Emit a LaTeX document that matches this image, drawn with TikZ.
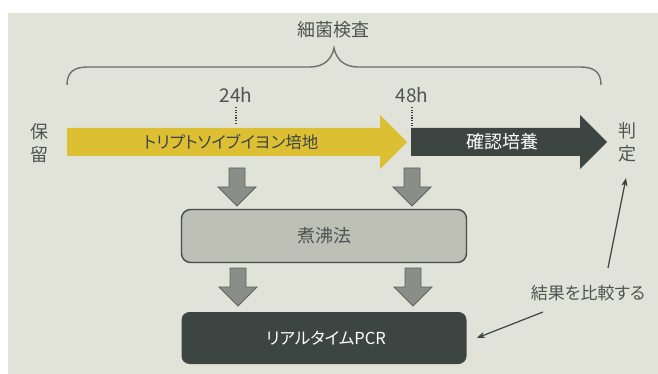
\documentclass[tikz,border=0pt]{standalone}
\usepackage{fontspec}
\setmainfont{Noto Sans CJK JP}[RawFeature=+palt]
\usetikzlibrary{arrows.meta}
\definecolor{panel}{HTML}{E2E3D8}
\definecolor{yellowA}{HTML}{DDBF34}
\definecolor{darkA}{HTML}{3D4543}
\definecolor{grayA}{HTML}{8A8E88}
\definecolor{grayB}{HTML}{5E635F}
\definecolor{boxfill}{HTML}{BEC0B6}
\definecolor{boxline}{HTML}{464C4A}
\definecolor{txt}{HTML}{4F5452}
\definecolor{braceC}{HTML}{6B706C}
\tikzset{
  lbl/.style={text=txt, inner sep=1pt, font=\fontsize{18}{23}\selectfont, align=center},
  timelbl/.style={text=txt, inner sep=1pt, font=\fontsize{19}{23}\selectfont},
  onarrow/.style={inner sep=0pt, font=\fontsize{18}{22}\selectfont},
  procbox/.style={draw=boxline, line width=1.4pt, fill=boxfill, rounded corners=9pt,
    minimum width=285pt, minimum height=53pt, text=txt, font=\fontsize{18}{22}\selectfont},
  pcrbox/.style={fill=darkA, rounded corners=8pt, minimum width=285pt, minimum height=52pt,
    text=white, font=\fontsize{16.5}{20}\selectfont},
  bigarr/.style={line join=miter},
  dfill/.style={fill=grayA, draw=grayB, line width=0.8pt},
  tick/.style={draw=darkA, line width=1.3pt, dash pattern=on 1.3pt off 1.3pt},
  conn/.style={draw=darkA, line width=1.2pt, -{Stealth[length=8pt,width=6pt,inset=2pt]}},
  bracestyle/.style={draw=braceC, line width=1.4pt},
  darr/.pic={\path[dfill] (-8,0) -- (8,0) -- (8,19) -- (19,19) -- (0,38) -- (-19,19) -- (-8,19) -- cycle;}
}
\begin{document}
\begin{tikzpicture}[x=1pt, y=-1pt]
\useasboundingbox (0,0) rectangle (658,374);
\fill[white] (0,0) rectangle (658,374);
\fill[panel] (8,13) rectangle (658,374);

% title and brace
\node[lbl] (title) at (333,30) {細菌検査};
\draw[bracestyle] (67,85) .. controls (67,72) and (74,67) .. (88,67) -- (310,67)
  .. controls (325,67) and (332,58) .. (334,48)
  .. controls (336,58) and (343,67) .. (358,67) -- (580,67)
  .. controls (594,67) and (601,72) .. (601,85);

% time labels
\node[timelbl] (t24) at (236,95) {24h};
\node[timelbl] (t48) at (412,95) {48h};
\coordinate (d24) at (236,125);
\coordinate (d48) at (412,126);
\draw[tick] (236,107) -- (d24);
\draw[tick] (412,107) -- (d48);

% big arrows
\fill[yellowA, bigarr] (67,128) -- (380,128) -- (380,115) -- (407,142) -- (380,169) -- (380,156) -- (67,156) -- cycle;
\fill[darkA, bigarr] (411,128) -- (580,128) -- (580,115) -- (607,142) -- (580,169) -- (580,156) -- (411,156) -- cycle;
\node[onarrow, text=darkA, font=\fontsize{16.5}{20}\selectfont] (tsb) at (231,142) {トリプトソイブイヨン培地};
\node[onarrow, text=white] (conf) at (502,142) {確認培養};

% side labels
\node[lbl] (hold) at (39,143) {保\\留};
\node[lbl] (judge) at (627,142) {判\\定};

% down arrows
\pic at (237,168) {darr};
\pic at (412,168) {darr};
\pic at (238,268) {darr};
\pic at (413,268) {darr};

% boxes
\node[procbox] (boil) at (324,236) {煮沸法};
\node[pcrbox] (pcr) at (324,338) {\hspace*{4pt}リアルタイムPCR};

% comparison
\node[lbl, font=\fontsize{17}{20}\selectfont] (cmp) at (588,293) {結果を比較する};
\coordinate (up0) at (608,268);
\coordinate (up1) at (626,178);
\coordinate (lf0) at (543,312);
\draw[conn] (up0) -- (up1);
\draw[conn] (lf0) -- ([xshift=10pt]pcr.east);
\end{tikzpicture}
\end{document}
